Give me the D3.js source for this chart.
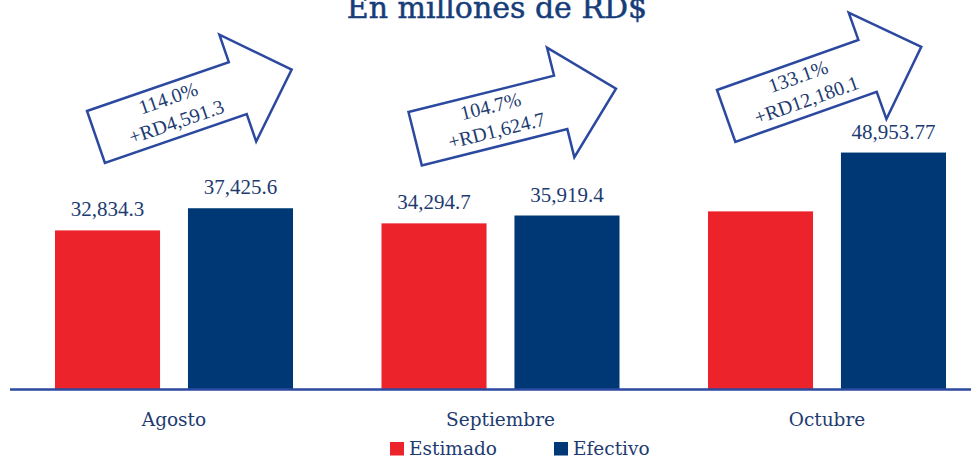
<!DOCTYPE html>
<html>
<head>
<meta charset="utf-8">
<script src="https://cdn.jsdelivr.net/npm/d3@7"></script>
<style>
	html, body { margin: 0; padding: 0; background: #fff; }
	svg { display: block; }
</style>
</head>
<body>
<svg class="chart" width="971" height="460"></svg>
<script>
////////////////////////////////////////////////////////////
//// Data //////////////////////////////////////////////////
////////////////////////////////////////////////////////////
const months = ["Agosto", "Septiembre", "Octubre"];
const series = ["Estimado", "Efectivo"];
const estimado = [32834.3, 34294.7, 36773.67];
const efectivo = [37425.6, 35919.4, 48953.77];
const estimadoLabels = ["32,834.3", "34,294.7", ""];
const efectivoLabels = ["37,425.6", "35,919.4", "48,953.77"];
const pctLabels = ["114.0%", "104.7%", "133.1%"];
const diffLabels = ["+RD4,591.3", "+RD1,624.7", "+RD12,180.1"];
const title = "En millones de RD$";

////////////////////////////////////////////////////////////
//// Setup /////////////////////////////////////////////////
////////////////////////////////////////////////////////////
const svg = d3.select(".chart");
const width = 971;
const baseY = 389;

const red = "#ec232a";
const blue = "#003876";
const textColor = "#1d3b70";
const lineColor = "#2c49a0";
const colors = [red, blue];

const serif = "'DejaVu Serif', serif";
const numFont = "'Liberation Serif', serif";

const x0 = d3.scaleBand().domain(months).range([55, 946]).paddingInner(0.271).paddingOuter(0);
const x1 = d3.scaleBand().domain(series).range([0, x0.bandwidth()]).paddingInner(0.21);
const y = d3.scaleLinear().domain([0, 50000]).range([baseY, 147.5]);

const rows = months.map((m, i) => ({
	month: m,
	values: [
		{ key: series[0], value: estimado[i], label: estimadoLabels[i] },
		{ key: series[1], value: efectivo[i], label: efectivoLabels[i] }
	]
}));

// Title (cut at the top like the original)
svg.append("text")
	.attr("x", 497)
	.attr("y", 18)
	.attr("text-anchor", "middle")
	.attr("font-family", serif)
	.attr("font-size", 30)
	.attr("fill", "#163d7a")
	.attr("stroke", "#163d7a")
	.attr("stroke-width", 0.5)
	.text(title);

////////////////////////////////////////////////////////////
//// Bars //////////////////////////////////////////////////
////////////////////////////////////////////////////////////
const group = svg.append("g")
	.selectAll("g")
	.data(rows)
	.join("g")
	.attr("transform", d => `translate(${x0(d.month)},0)`);

group.selectAll("rect")
	.data(d => d.values)
	.join("rect")
	.attr("x", d => x1(d.key))
	.attr("y", d => y(d.value))
	.attr("width", x1.bandwidth())
	.attr("height", d => baseY - y(d.value))
	.attr("fill", (d, i) => colors[i]);

group.selectAll("text.value")
	.data(d => d.values.filter(v => v.label))
	.join("text")
	.attr("class", "value")
	.attr("x", d => x1(d.key) + x1.bandwidth() / 2)
	.attr("y", d => y(d.value) - 14)
	.attr("text-anchor", "middle")
	.attr("font-family", numFont)
	.attr("font-size", 21)
	.attr("fill", textColor)
	.text(d => d.label);

// Axis line
svg.append("line")
	.attr("x1", 10)
	.attr("x2", width)
	.attr("y1", baseY + 0.5)
	.attr("y2", baseY + 0.5)
	.attr("stroke", lineColor)
	.attr("stroke-width", 2.5);

// Month labels
svg.append("g")
	.selectAll("text")
	.data(months)
	.join("text")
	.attr("x", d => x0(d) + x0.bandwidth() / 2)
	.attr("y", 426)
	.attr("text-anchor", "middle")
	.attr("font-family", serif)
	.attr("font-size", 18.5)
	.attr("fill", textColor)
	.text(d => d);

////////////////////////////////////////////////////////////
//// Arrows ////////////////////////////////////////////////
////////////////////////////////////////////////////////////
// tail corner offset from the month band, and tilt of each arrow
const arrowPose = [
	{ dx: 32, y: 111, angle: -19 },
	{ dx: 27, y: 112, angle: -14 },
	{ dx: 9, y: 90, angle: -19.5 }
];
const arrowShape = [[0, 0], [150, 0], [150, -29], [207, 27.5], [150, 84], [150, 55], [0, 55]];

const arrows = svg.append("g")
	.selectAll("g")
	.data(months)
	.join("g")
	.attr("transform", (d, i) => {
		const p = arrowPose[i];
		return `translate(${x0(d) + p.dx},${p.y}) rotate(${p.angle})`;
	});

arrows.append("path")
	.attr("d", d3.line()(arrowShape) + "Z")
	.attr("fill", "#fff")
	.attr("stroke", lineColor)
	.attr("stroke-width", 2.5)
	.attr("stroke-linejoin", "miter");

arrows.append("text")
	.attr("x", 81)
	.attr("y", 21)
	.attr("text-anchor", "middle")
	.attr("font-family", numFont)
	.attr("font-size", 20)
	.attr("fill", textColor)
	.text((d, i) => pctLabels[i]);

arrows.append("text")
	.attr("x", 81)
	.attr("y", 46)
	.attr("text-anchor", "middle")
	.attr("font-family", numFont)
	.attr("font-size", 20)
	.attr("fill", textColor)
	.text((d, i) => diffLabels[i]);

////////////////////////////////////////////////////////////
//// Legend ////////////////////////////////////////////////
////////////////////////////////////////////////////////////
const legend = svg.append("g")
	.selectAll("g")
	.data(series)
	.join("g")
	.attr("transform", (d, i) => `translate(${390 + i * 164},442)`);

legend.append("rect")
	.attr("width", 14)
	.attr("height", 13.5)
	.attr("fill", (d, i) => colors[i]);

legend.append("text")
	.attr("x", 19)
	.attr("y", 13)
	.attr("font-family", serif)
	.attr("font-size", 18.5)
	.attr("fill", textColor)
	.text(d => d);
</script>
</body>
</html>
